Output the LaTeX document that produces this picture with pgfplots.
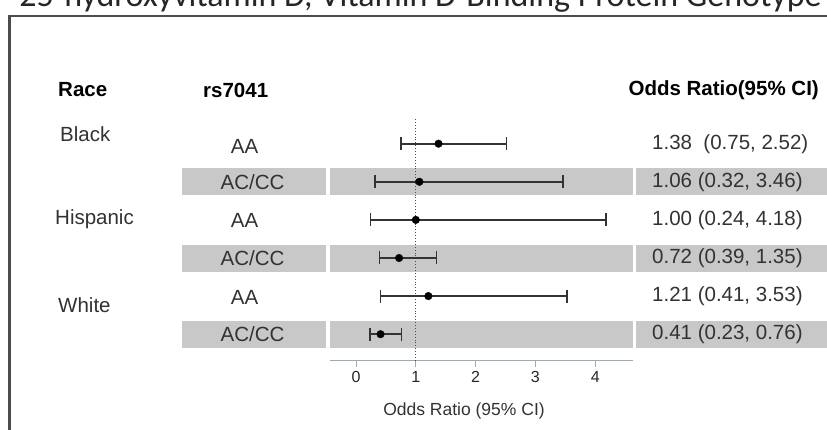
\documentclass[border=0pt]{standalone}
\usepackage{fontspec}
\setmainfont{Liberation Sans}
\newfontfamily\titlefont{Carlito}
\usepackage{pgfplots}
\usepackage{pgfplotstable}
\pgfplotsset{compat=1.18}

\definecolor{band}{RGB}{200,200,200}
\definecolor{txt}{RGB}{50,50,50}
\definecolor{axgray}{RGB}{160,168,176}
\definecolor{frame}{RGB}{75,75,75}

% odds ratio, lower and upper 95% CI, row position (top = 6)
\pgfplotstableread{
or   lo   hi   y
1.38 0.75 2.52 6
1.06 0.32 3.46 5
1.00 0.24 4.18 4
0.72 0.39 1.35 3
1.21 0.41 3.53 2
0.41 0.23 0.76 1
}\ordata

\begin{document}
\begin{tikzpicture}[x=1pt,y=1pt]
\useasboundingbox (0,0) rectangle (827,429);
\clip (0,0) rectangle (827,429);

% cut-off title and frame
\node[anchor=base east, inner sep=0pt, font=\titlefont\fontsize{34}{36}\selectfont, text=black!85]
  at (822,422.5) {25-hydroxyvitamin D, Vitamin D-Binding Protein Genotype};
\draw[frame, line width=2.5pt] (9.5,-20) -- (9.5,413) -- (900,413);

% shaded rows
\foreach \yc in {247.2,171,94.8}{
  \fill[band] (182,\yc-13.5) rectangle (325.5,\yc+13.5);
  \fill[band] (330,\yc-13.5) rectangle (632.5,\yc+13.5);
  \fill[band] (635.5,\yc-13.5) rectangle (840,\yc+13.5);
}

% headers
\begin{scope}[font=\bfseries\fontsize{20.5}{23}\selectfont]
\node[anchor=west, inner sep=0pt] at (58,339) {Race};
\node[anchor=west, inner sep=0pt] at (203,339) {rs7041};
\node[anchor=east, inner sep=0pt] at (819,339) {Odds Ratio(95\% CI)};
\end{scope}

\begin{scope}[font=\fontsize{20.5}{23}\selectfont, text=txt]
\node[anchor=west, inner sep=0pt] at (60,295) {Black};
\node[anchor=west, inner sep=0pt] at (55,210) {Hispanic};
\node[anchor=west, inner sep=0pt] at (58,124) {White};
\node[inner sep=0pt] at (244.5,283) {AA};
\node[inner sep=0pt] at (252.5,247.2) {AC/CC};
\node[inner sep=0pt] at (244.5,209) {AA};
\node[inner sep=0pt] at (252.5,171) {AC/CC};
\node[inner sep=0pt] at (244.5,132) {AA};
\node[inner sep=0pt] at (252.5,94.8) {AC/CC};
\node[anchor=west, inner sep=0pt] at (652,284.5) {1.38\ \ (0.75, 2.52)};
\node[anchor=west, inner sep=0pt] at (652,247.2) {1.06 (0.32, 3.46)};
\node[anchor=west, inner sep=0pt] at (652,209) {1.00 (0.24, 4.18)};
\node[anchor=west, inner sep=0pt] at (652,171) {0.72 (0.39, 1.35)};
\node[anchor=west, inner sep=0pt] at (652,133) {1.21 (0.41, 3.53)};
\node[anchor=west, inner sep=0pt] at (652,94.8) {0.41 (0.23, 0.76)};
\end{scope}

\begin{axis}[
  at={(330pt,68.3pt)}, anchor=south west,
  scale only axis, width=303pt, height=255.1pt,
  xmin=-0.435, xmax=4.632, ymin=0.304, ymax=7,
  clip=false,
  axis x line*=bottom, hide y axis,
  axis line style={axgray, line width=1pt},
  xtick={0,1,2,3,4},
  tick align=outside, major tick length=6pt,
  xtick style={axgray, line width=1pt},
  xticklabel style={font=\fontsize{16}{18}\selectfont, text=black!85, yshift=-1pt},
  /pgf/number format/assume math mode=true,
]
\draw[black!70, dotted, line width=0.9pt] (axis cs:1,0.304) -- (axis cs:1,6.674);
\addplot[only marks, mark=*, mark size=3.8pt, black,
  error bars/.cd, x dir=both, x explicit,
  error bar style={line width=1.8pt, black!80},
  error mark options={rotate=90, mark size=6.5pt, line width=1.5pt, black!80}]
  table[x=or, y=y,
    x error plus expr=\thisrow{hi}-\thisrow{or},
    x error minus expr=\thisrow{or}-\thisrow{lo}] {\ordata};
\end{axis}

\node[font=\fontsize{17.5}{20}\selectfont, text=txt] at (464,18) {Odds Ratio (95\% CI)};
\end{tikzpicture}
\end{document}
